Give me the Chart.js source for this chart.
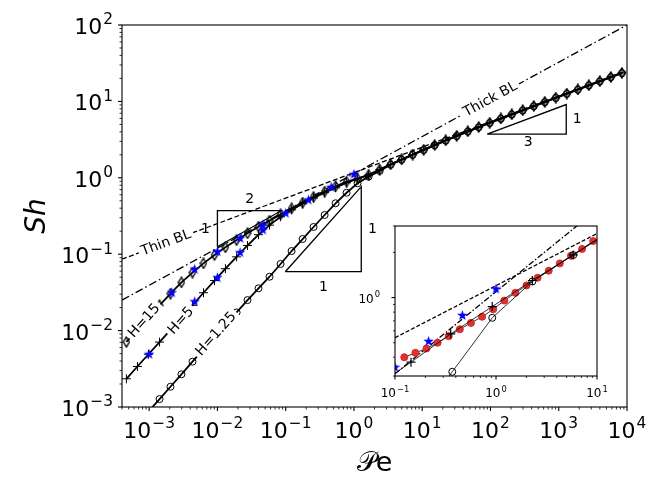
<!DOCTYPE html>
<html>
<head>
<meta charset="utf-8">
<script src="https://cdn.jsdelivr.net/npm/chart.js@4.4.1/dist/chart.umd.min.js"></script>
<style>
  body { margin: 0; background: #fff; }
  #wrap { position: relative; width: 664px; height: 497px; }
  #main { position: absolute; left: 0; top: 0; }
  #inset { position: absolute; left: 355px; top: 214px; }
</style>
</head>
<body>
<div id="wrap">
  <canvas id="main" width="664" height="497"></canvas>
  <canvas id="inset" width="270" height="186"></canvas>
</div>
<script>
// ---- main plot data ----
const pe = [4.64e-4, 6.73e-4, 9.75e-4, 1.42e-3, 2.05e-3, 2.97e-3, 4.31e-3, 6.25e-3, 9.06e-3, 0.0131,
  0.0191, 0.0276, 0.0400, 0.0580, 0.0841, 0.122, 0.177, 0.256, 0.372, 0.538,
  0.780, 1.13, 1.64, 2.38, 3.45, 5.00, 7.24, 10.5, 15.2, 22.1,
  32.0, 46.5, 67.3, 97.5, 142, 205, 297, 431, 625, 906,
  1312, 1905, 2761, 4000, 5794, 8414];
const shH15 = [0.0071, 0.0102, 0.0148, 0.0214, 0.0305, 0.0427, 0.0575, 0.0759, 0.0977, 0.123,
  0.153, 0.188, 0.229, 0.275, 0.331, 0.398, 0.473, 0.562, 0.661, 0.776,
  0.891, 0.977, 1.096, 1.282, 1.503, 1.742, 2.018, 2.333, 2.692, 3.097,
  3.548, 4.064, 4.624, 5.26, 5.98, 6.78, 7.67, 8.71, 9.86, 11.19,
  12.68, 14.35, 16.29, 18.45, 20.89, 23.6];
const shH5 = [0.00234, 0.00339, 0.0049, 0.00708, 0.0102, 0.0148, 0.0214, 0.0313, 0.0452, 0.0646,
  0.0923, 0.130, 0.180, 0.240, 0.309, 0.380, 0.457, 0.543, 0.638, 0.741,
  0.861, 0.966, 1.090, 1.276, 1.497, 1.736, 2.012, 2.327, 2.686, 3.091,
  3.542, 4.058, 4.618, 5.25, 5.97, 6.77, 7.66, 8.70, 9.85, 11.17,
  12.66, 14.33, 16.27, 18.43, 20.87, 23.55];
const shH125 = [null, null, 0.00087, 0.00127, 0.00184, 0.00268, 0.00392, 0.00568, 0.00822, 0.0119,
  0.0173, 0.0251, 0.0358, 0.0507, 0.0745, 0.110, 0.158, 0.227, 0.326, 0.464,
  0.637, 0.847, 1.035, 1.23, 1.48, 1.72, 1.99, 2.30, 2.66, 3.06,
  3.51, 4.02, 4.58, 5.21, 5.92, 6.71, 7.59, 8.62, 9.76, 11.08,
  12.55, 14.21, 16.13, 18.27, 20.68, 23.4];

const starPeA = [0.00215, 0.00464, 0.01, 0.0215, 0.0464, 0.1, 0.215, 0.464, 1.0];
const starShA = [0.0313, 0.0634, 0.108, 0.161, 0.241, 0.343, 0.512, 0.751, 1.11];
const starPeB = [0.001, 0.00215, 0.00464, 0.01, 0.0215, 0.0464];
const starShB = [0.0049, 0.0108, 0.0239, 0.0492, 0.105, 0.207];

const thinBLPe = [4e-4, 1e4];
const thinBLSh = [0.086, 25.2];
const thickBLPe = [4e-4, 1e4];
const thickBLSh = [0.0251, 100];

const tri2Pe = [0.01, 0.01, 0.086, 0.01];
const tri2Sh = [0.125, 0.371, 0.371, 0.125];
const tri1Pe = [0.0986, 1.28, 1.28, 0.0986];
const tri1Sh = [0.059, 0.059, 0.767, 0.059];
const tri3Pe = [89.5, 1288, 1288, 89.5];
const tri3Sh = [3.74, 3.74, 9.1, 3.74];

const xTickExp = [-3, -2, -1, 0, 1, 2, 3, 4];
const yTickExp = [-3, -2, -1, 0, 1, 2];

// labels placed on the curves: text, Pe, Sh, local slope
const lineLabels = [
  ['Thin BL', 1.77e-3, 0.140, 1 / 3],
  ['Thick BL', 100, 10.6, 0.487],
  ['H=15', 8.5e-4, 0.0134, 1],
  ['H=5', 2.94e-3, 0.0134, 1],
  ['H=1.25', 9.6e-3, 0.0090, 1]
];
const triLabels = [
  ['2', 0.0296, 0.523], ['1', 0.0067, 0.214],
  ['1', 0.356, 0.0372], ['1', 1.86, 0.214],
  ['3', 357, 2.88], ['1', 1866, 5.83]
];

// ---- inset data ----
const inRedPe = [0.1236, 0.1592, 0.2051, 0.2642, 0.3404, 0.4385, 0.5649, 0.7278, 0.9376,
  1.208, 1.556, 2.004, 2.582, 3.327, 4.285, 5.521, 7.112, 9.162];
const inRedSh = [0.400, 0.428, 0.458, 0.500, 0.553, 0.615, 0.678, 0.745, 0.835,
  0.955, 1.075, 1.205, 1.355, 1.51, 1.69, 1.90, 2.11, 2.38];
const inPlusPe = [0.057, 0.144, 0.356, 0.918, 2.29, 5.82, 14.6];
const inPlusSh = [0.24, 0.371, 0.573, 0.871, 1.30, 1.925, 2.9];
const inCircPe = [0.144, 0.369, 0.918, 2.29, 5.82, 14.6];
const inCircSh = [0.14, 0.32, 0.733, 1.28, 1.92, 2.85];
const inStarPe = [0.1, 0.215, 0.464, 1.0];
const inStarSh = [0.343, 0.51, 0.76, 1.14];
const inThinPe = [0.1, 10];
const inThinSh = [0.54, 2.67];
const inThickPe = [0.1, 10];
const inThickSh = [0.31, 3.86];
const inXTickExp = [-1, 0, 1];
const inYTickExp = [0];

const FONT = '"DejaVu Sans", sans-serif';

function pts(xs, ys) {
  return xs.map((x, i) => ({ x: x, y: ys[i] }));
}

function makeStar(r) {
  const s = Math.ceil(2 * r + 2);
  const c = document.createElement('canvas');
  c.width = s; c.height = s;
  const g = c.getContext('2d');
  g.fillStyle = '#0000ff';
  g.beginPath();
  for (let k = 0; k < 10; k++) {
    const rr = k % 2 ? r * 0.4 : r;
    const a = -Math.PI / 2 + k * Math.PI / 5;
    const px = s / 2 + rr * Math.cos(a), py = s / 2 + rr * Math.sin(a);
    if (k) g.lineTo(px, py); else g.moveTo(px, py);
  }
  g.closePath();
  g.fill();
  return c;
}

function makeThinDiamond() {
  const c = document.createElement('canvas');
  c.width = 8; c.height = 12;
  const g = c.getContext('2d');
  g.strokeStyle = '#000';
  g.lineWidth = 1.4;
  g.beginPath();
  g.moveTo(4, 1); g.lineTo(7, 6); g.lineTo(4, 11); g.lineTo(1, 6);
  g.closePath();
  g.stroke();
  return c;
}

const starImg = makeStar(5.5);
const diamondImg = makeThinDiamond();

function refLine(xs, ys, dash, order) {
  return {
    data: pts(xs, ys), borderColor: '#000', borderWidth: 1.3, borderDash: dash,
    pointRadius: 0, order: order, clip: 0
  };
}

function drawPow(ctx, exp, x, y, size, align) {
  const base = '10';
  const sup = exp < 0 ? '\u2212' + (-exp) : String(exp);
  const ss = size * 0.7;
  ctx.font = size + 'px ' + FONT;
  const wb = ctx.measureText(base).width;
  ctx.font = ss + 'px ' + FONT;
  const ws = ctx.measureText(sup).width;
  const total = wb + ws + 1;
  let left = x;
  if (align === 'center') left = x - total / 2;
  if (align === 'right') left = x - total;
  ctx.textAlign = 'left';
  ctx.textBaseline = 'alphabetic';
  ctx.font = size + 'px ' + FONT;
  ctx.fillText(base, left, y);
  ctx.font = ss + 'px ' + FONT;
  ctx.fillText(sup, left + wb + 1, y - size * 0.44);
}

function logTicks(min, max) {
  const out = [];
  for (let e = Math.floor(Math.log10(min)); e <= Math.ceil(Math.log10(max)); e++) {
    for (let m = 1; m < 10; m++) {
      const v = m * Math.pow(10, e);
      if (v >= min * 0.999 && v <= max * 1.001) out.push({ v: v, major: m === 1 });
    }
  }
  return out;
}

function drawAxes(chart, o) {
  const ctx = chart.ctx, a = chart.chartArea;
  const xs = chart.scales.x, ys = chart.scales.y;
  ctx.save();
  ctx.strokeStyle = '#000';
  ctx.fillStyle = '#000';
  ctx.lineWidth = 1.1;
  ctx.strokeRect(a.left, a.top, a.right - a.left, a.bottom - a.top);
  logTicks(xs.min, xs.max).forEach(t => {
    const px = xs.getPixelForValue(t.v);
    ctx.lineWidth = t.major ? 1.1 : 0.8;
    ctx.beginPath();
    ctx.moveTo(px, a.bottom);
    ctx.lineTo(px, a.bottom + (t.major ? o.major : o.minor));
    ctx.stroke();
  });
  logTicks(ys.min, ys.max).forEach(t => {
    const py = ys.getPixelForValue(t.v);
    ctx.lineWidth = t.major ? 1.1 : 0.8;
    ctx.beginPath();
    ctx.moveTo(a.left, py);
    ctx.lineTo(a.left - (t.major ? o.major : o.minor), py);
    ctx.stroke();
  });
  o.xExp.forEach(e => drawPow(ctx, e, xs.getPixelForValue(Math.pow(10, e)), a.bottom + o.xBase, o.size, 'center'));
  o.yExp.forEach(e => drawPow(ctx, e, a.left - o.yGap, ys.getPixelForValue(Math.pow(10, e)) + o.yBase, o.size, 'right'));
  ctx.restore();
}

const mainDecor = {
  id: 'mainDecor',
  afterDatasetsDraw(chart) {
    const ctx = chart.ctx, xs = chart.scales.x, ys = chart.scales.y;
    ctx.save();
    ctx.font = '14px ' + FONT;
    lineLabels.forEach(([t, x, y, k]) => {
      const px = xs.getPixelForValue(x), py = ys.getPixelForValue(y);
      const qx = xs.getPixelForValue(x * 10), qy = ys.getPixelForValue(y * Math.pow(10, k));
      const ang = Math.atan2(py - qy, qx - px);
      const w = ctx.measureText(t).width;
      ctx.save();
      ctx.translate(px, py);
      ctx.rotate(-ang);
      ctx.fillStyle = '#fff';
      ctx.fillRect(-w / 2 - 3, -9, w + 6, 18);
      ctx.fillStyle = '#000';
      ctx.textAlign = 'center';
      ctx.textBaseline = 'middle';
      ctx.fillText(t, 0, 0);
      ctx.restore();
    });
    ctx.fillStyle = '#000';
    ctx.textAlign = 'center';
    ctx.textBaseline = 'middle';
    triLabels.forEach(([t, x, y]) => ctx.fillText(t, xs.getPixelForValue(x), ys.getPixelForValue(y)));
    ctx.restore();
  },
  afterDraw(chart) {
    drawAxes(chart, { major: 4, minor: 2.5, xBase: 31, yBase: 9, yGap: 9, size: 22, xExp: xTickExp, yExp: yTickExp });
    const ctx = chart.ctx, a = chart.chartArea;
    ctx.save();
    ctx.fillStyle = '#000';
    ctx.textAlign = 'center';
    ctx.textBaseline = 'alphabetic';
    ctx.font = '27px ' + FONT;
    ctx.fillText('\u{1D4AB}e', (a.left + a.right) / 2, a.bottom + 64);
    ctx.translate(45, (a.top + a.bottom) / 2);
    ctx.rotate(-Math.PI / 2);
    ctx.font = 'italic 28px ' + FONT;
    ctx.fillText('Sh', 0, 0);
    ctx.restore();
  }
};

const mainChart = new Chart(document.getElementById('main'), {
  type: 'line',
  data: {
    datasets: [
      { data: pts(starPeA, starShA), showLine: false, pointStyle: starImg, pointRadius: 5, order: 0, clip: 0 },
      { data: pts(starPeB, starShB), showLine: false, pointStyle: starImg, pointRadius: 5, order: 0, clip: 0 },
      { data: pts(pe, shH15), borderColor: '#000', borderWidth: 1.8, pointStyle: diamondImg, pointRadius: 4, order: 1, clip: 0 },
      { data: pts(pe, shH5), borderColor: '#000', borderWidth: 1.8, pointStyle: 'cross', pointRadius: 4.5,
        pointBorderColor: '#000', pointBorderWidth: 1, order: 2, clip: 0 },
      { data: pts(pe, shH125), borderColor: '#000', borderWidth: 1.8, pointStyle: 'circle', pointRadius: 3.5,
        pointBorderColor: '#000', pointBackgroundColor: 'rgba(0,0,0,0)', pointBorderWidth: 1, order: 3, clip: 0 },
      refLine(thinBLPe, thinBLSh, [5, 2.5], 4),
      refLine(thickBLPe, thickBLSh, [8, 3, 1.5, 3], 4),
      refLine(tri2Pe, tri2Sh, [], 5),
      refLine(tri1Pe, tri1Sh, [], 5),
      refLine(tri3Pe, tri3Sh, [], 5)
    ]
  },
  options: {
    responsive: false,
    animation: false,
    devicePixelRatio: 1,
    spanGaps: false,
    elements: { line: { tension: 0 } },
    layout: { padding: { top: 25, right: 37, left: 0, bottom: 0 } },
    plugins: { legend: { display: false }, tooltip: { enabled: false } },
    scales: {
      x: {
        type: 'logarithmic', min: 4e-4, max: 1e4,
        grid: { display: false }, ticks: { display: false }, border: { display: false },
        afterFit: (s) => { s.height = 90; }
      },
      y: {
        type: 'logarithmic', min: 1e-3, max: 100,
        grid: { display: false }, ticks: { display: false }, border: { display: false },
        afterFit: (s) => { s.width = 122; }
      }
    }
  },
  plugins: [mainDecor]
});

const insetDecor = {
  id: 'insetDecor',
  beforeDatasetsDraw(chart) {
    const ctx = chart.ctx, a = chart.chartArea;
    ctx.save();
    ctx.fillStyle = '#fff';
    ctx.fillRect(a.left, a.top, a.right - a.left, a.bottom - a.top);
    ctx.restore();
  },
  afterDraw(chart) {
    drawAxes(chart, { major: 3.5, minor: 2, xBase: 21, yBase: 5, yGap: 15, size: 12, xExp: inXTickExp, yExp: inYTickExp });
  }
};

const insetChart = new Chart(document.getElementById('inset'), {
  type: 'line',
  data: {
    datasets: [
      { data: pts(inStarPe, inStarSh), showLine: false, pointStyle: starImg, pointRadius: 5, order: 0, clip: 0 },
      { data: pts(inPlusPe, inPlusSh), borderColor: '#000', borderWidth: 0.8, pointStyle: 'cross', pointRadius: 4.5,
        pointBorderColor: '#000', pointBorderWidth: 1.2, order: 1, clip: 0 },
      { data: pts(inCircPe, inCircSh), borderColor: '#000', borderWidth: 0.8, pointStyle: 'circle', pointRadius: 3.5,
        pointBorderColor: '#000', pointBackgroundColor: 'rgba(0,0,0,0)', pointBorderWidth: 1, order: 1, clip: 0 },
      { data: pts(inRedPe, inRedSh), borderColor: '#000', borderWidth: 0.8, pointStyle: 'circle', pointRadius: 3.5,
        pointBorderColor: '#d62728', pointBackgroundColor: '#e03030', pointBorderWidth: 1, order: 2, clip: 0 },
      refLine(inThinPe, inThinSh, [4, 2], 3),
      refLine(inThickPe, inThickSh, [6, 2, 1.5, 2], 3)
    ]
  },
  options: {
    responsive: false,
    animation: false,
    devicePixelRatio: 1,
    elements: { line: { tension: 0 } },
    layout: { padding: { top: 12, right: 28, left: 0, bottom: 0 } },
    plugins: { legend: { display: false }, tooltip: { enabled: false } },
    scales: {
      x: {
        type: 'logarithmic', min: 0.1, max: 10,
        grid: { display: false }, ticks: { display: false }, border: { display: false },
        afterFit: (s) => { s.height = 24; }
      },
      y: {
        type: 'logarithmic', min: 0.3, max: 3,
        grid: { display: false }, ticks: { display: false }, border: { display: false },
        afterFit: (s) => { s.width = 40; }
      }
    }
  },
  plugins: [insetDecor]
});
</script>
</body>
</html>
